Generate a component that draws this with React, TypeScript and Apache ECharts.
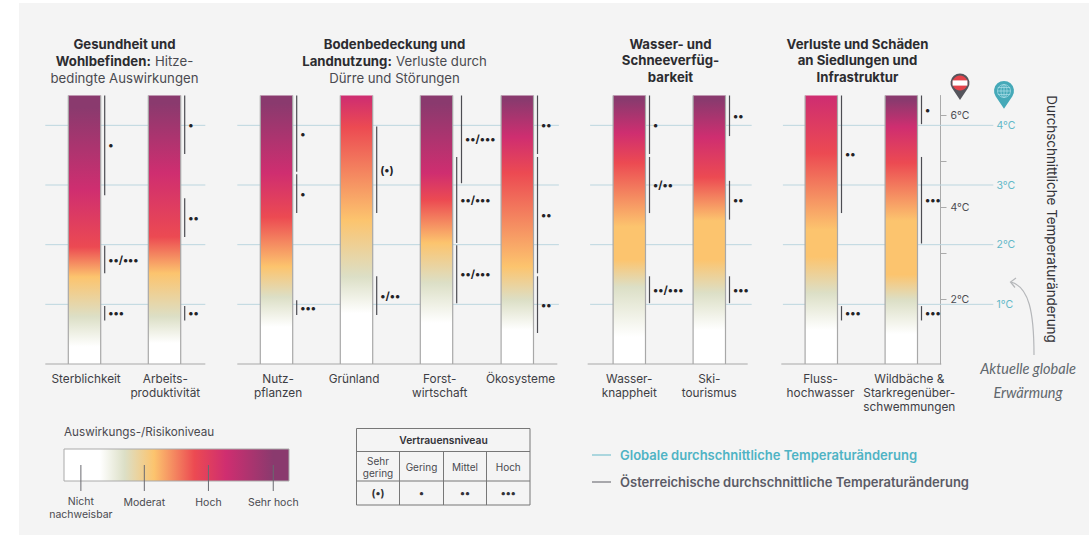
import React, { useEffect, useRef } from "react";
import * as echarts from "echarts";

const FONT = "Inter";
// Column positions (in column units) and their labels
const impactNames = ["Sterblichkeit", "Arbeitsproduktivität", "Nutzpflanzen", "Grünland", "Forstwirtschaft", "Ökosysteme", "Wasserknappheit", "Skitourismus", "Flusshochwasser", "Wildbäche"];
const barPositions = [0, 1, 2.4, 3.4, 4.4, 5.41, 6.81, 7.81, 9.21, 10.21];
const labelPositions = [0.02, 1.01, 2.42, 3.37, 4.44, 5.45, 6.81, 7.81, 9.2, 10.31];
const barLabels = [
  "Sterblichkeit", "Arbeits-\nproduktivität", "Nutz-\npflanzen", "Grünland", "Forst-\nwirtschaft",
  "Ökosysteme", "Wasser-\nknappheit", "Ski-\ntourismus", "Fluss-\nhochwasser", "Wildbäche &\nStarkregenüber-\nschwemmungen",
];
// Risk level (0 none .. 5 very high) reached at a global temperature, per column
const riskStops: number[][][] = [
  [[0.29, 0], [0.79, 1], [1.46, 2], [1.96, 3], [2.92, 4], [4.3, 5]],
  [[0.35, 0], [0.79, 1], [1.52, 2], [2.13, 3], [3.2, 4], [4.37, 5]],
  [[0.62, 0], [1.12, 1], [1.63, 2], [2.46, 3], [3.2, 4], [4.37, 5]],
  [[0.85, 0], [1.46, 1], [2.41, 2], [3.97, 3], [4.47, 4]],
  [[0.69, 0], [1.36, 1], [2.03, 2], [2.75, 3], [3.2, 4], [4.37, 5]],
  [[0.57, 0], [1.07, 1], [1.63, 2], [3.2, 3], [3.8, 4], [4.42, 5]],
  [[0.45, 0], [1.29, 1], [1.75, 2], [2.3, 2], [3.37, 3], [3.87, 4], [4.42, 5]],
  [[0.57, 0], [1.19, 1], [1.75, 2], [2.4, 2], [3.13, 3], [3.8, 4], [4.42, 5]],
  [[0.57, 0], [1.19, 1], [1.8, 2], [2.25, 2], [3.53, 3], [4.47, 4]],
  [[0.5, 0], [1.07, 1], [1.5, 2], [2.4, 2], [3.37, 3], [3.97, 4], [4.42, 5]],
];
// Confidence ranges: column, low, high, dots, lane
const confidence: [number, number, number, string, number][] = [
  [0, 2.83, 4.5, "•", 0], [0, 1.52, 1.98, "••/•••", 0], [0, 0.73, 0.97, "•••", 0],
  [1, 3.52, 4.5, "•", 0], [1, 2.13, 2.78, "••", 0], [1, 0.73, 0.97, "••", 0],
  [2, 3.22, 4.5, "•", 0], [2, 2.53, 3.18, "•", 0], [2, 0.82, 1.07, "•••", 0],
  [3, 2.53, 3.98, "(•)", 0], [3, 0.82, 1.47, "•/••", 0],
  [4, 3.03, 4.5, "••/•••", 1], [4, 2.03, 3.47, "••/•••", 0], [4, 1.02, 1.99, "••/•••", 0],
  [5, 3.52, 4.5, "••", 0], [5, 1.52, 3.47, "••", 0], [5, 0.52, 1.47, "••", 0],
  [6, 3.52, 4.5, "•", 0], [6, 2.53, 3.47, "•/••", 0], [6, 1.02, 1.47, "••/•••", 0],
  [7, 3.82, 4.5, "••", 0], [7, 2.42, 3.07, "••", 0], [7, 1.02, 1.47, "•••", 0],
  [8, 2.53, 4.5, "••", 0], [8, 0.73, 0.97, "•••", 0],
  [9, 4.02, 4.5, "•", 0], [9, 2.02, 3.47, "•••", 0], [9, 0.73, 0.97, "•••", 0],
];
const globalTemps = [1, 2, 3, 4];
const globalLineSpans = [[-0.49, 1.51], [1.91, 5.93], [6.32, 8.34], [8.73, 11.36]];
const baselineSpans = [[-0.49, 1.51], [1.91, 5.91], [6.29, 8.29], [8.71, 10.71]];
const austriaTicks = [2, 3, 4, 5, 6];
const austriaLabels = [2, 4, 6];
const legendLevels = [
  { name: "Nicht\nnachweisbar", at: 0.075 },
  { name: "Moderat", at: 0.357 },
  { name: "Hoch", at: 0.642 },
  { name: "Sehr hoch", at: 0.93 },
];
const tableHeader = "Vertrauensniveau";
const tableLevels = ["Sehr\ngering", "Gering", "Mittel", "Hoch"];
const tableDots = ["(•)", "•", "••", "•••"];
const titles = [
  { x: 124.5, text: "{b|Gesundheit und}\n{b|Wohlbefinden:} {r|Hitze-}\n{r|bedingte Auswirkungen}" },
  { x: 394.5, text: "{b|Bodenbedeckung und}\n{b|Landnutzung:} {r|Verluste durch}\n{r|Dürre und Störungen}" },
  { x: 670.5, text: "{b|Wasser- und}\n{b|Schneeverfüg-}\n{b|barkeit}" },
  { x: 857.5, text: "{b|Verluste und Schäden}\n{b|an Siedlungen und}\n{b|Infrastruktur}" },
];

const palette = ["#ffffff", "#dcdfc6", "#fcc46e", "#ec4a52", "#cf2e70", "#8a3a6e"];
const TOP = 4.5;
const BAR_W = 0.405;

const lineStyleOf = (stroke: string, lineWidth = 1) => ({ stroke, lineWidth });
const txt = (text: string, x: number, y: number, size: number, fill: string, extra: any = {}) => ({
  type: "text",
  x, y,
  style: { text, fill, font: `${extra.weight || 400} ${size}px ${FONT}`, align: extra.align || "center", verticalAlign: "middle", lineHeight: extra.lineHeight },
});
const line = (x1: number, y1: number, x2: number, y2: number, stroke: string, lineWidth = 1) => ({
  type: "line", shape: { x1, y1, x2, y2 }, style: lineStyleOf(stroke, lineWidth),
});

function buildGraphic() {
  const els: any[] = [];
  els.push({ type: "rect", z: -5, shape: { x: 19, y: 3, width: 1070, height: 532 }, style: { fill: "#f4f4f4" } });
  // risk legend
  const lx = 64, ly = 449, lw = 225, lh = 32;
  els.push(txt("Auswirkungs-/Risikoniveau", lx, 432, 11.7, "#4a4a50", { align: "left" }));
  els.push({
    type: "rect", shape: { x: lx, y: ly, width: lw, height: lh },
    style: {
      fill: new echarts.graphic.LinearGradient(0, 0, 1, 0, [
        { offset: 0, color: palette[0] }, { offset: 0.16, color: palette[0] }, { offset: 0.27, color: palette[1] },
        { offset: 0.4, color: palette[2] }, { offset: 0.58, color: palette[3] }, { offset: 0.72, color: palette[4] },
        { offset: 0.93, color: palette[5] }, { offset: 1, color: palette[5] },
      ]),
      stroke: "#aaaaaa", lineWidth: 1,
    },
  });
  legendLevels.forEach((l) => {
    const x = lx + l.at * lw;
    els.push(line(x, 465, x, 491, "#6a6a70", 1));
    els.push(txt(l.name, x, l.name.includes("\n") ? 508 : 502, 10.5, "#4a4a50", { lineHeight: 13 }));
  });
  // confidence table
  const cols = [356.5, 399.5, 443.5, 486.5, 530];
  const rows = [428.5, 451.5, 481, 505];
  rows.forEach((y) => els.push(line(cols[0], y, cols[4], y, "#777777", 1)));
  [cols[0], cols[4]].forEach((x) => els.push(line(x, rows[0], x, rows[3], "#777777", 1)));
  cols.slice(1, 4).forEach((x) => els.push(line(x, rows[1], x, rows[3], "#777777", 1)));
  els.push(txt(tableHeader, 443.5, 440, 10.3, "#333338", { weight: 600 }));
  tableLevels.forEach((t, i) => {
    const cx = (cols[i] + cols[i + 1]) / 2;
    els.push(txt(t, cx, 466.5, 10, "#4a4a50", { lineHeight: 12 }));
    els.push(txt(tableDots[i], cx, 493, 10.5, "#333338", { weight: 700 }));
  });
  // line legend
  els.push(line(592, 455, 611, 455, "#62b8c8", 1));
  els.push(line(592, 482, 611, 482, "#5b5b62", 1));
  els.push(txt("Globale durchschnittliche Temperaturänderung", 620, 455, 13, "#4fb3c4", { align: "left", weight: 600 }));
  els.push(txt("Österreichische durchschnittliche Temperaturänderung", 620, 482, 13, "#5b5b66", { align: "left", weight: 600 }));
  // axis title
  els.push({
    type: "text", x: 1052, y: 219, rotation: -Math.PI / 2,
    style: { text: "Durchschnittliche Temperaturänderung", fill: "#333338", font: `400 13.4px ${FONT}`, align: "center", verticalAlign: "middle" },
  });
  // pins
  els.push({ type: "pin", x: 960, y: 83, style: { fill: "#55555c" } });
  els.push({ type: "circle", shape: { cx: 960, cy: 83, r: 7.5 }, style: { fill: "#e4434b" } });
  els.push({ type: "rect", shape: { x: 952.6, y: 80.4, width: 14.8, height: 5.2 }, style: { fill: "#ffffff" } });
  els.push({ type: "pin", x: 1004, y: 91, scaleX: 1.05, scaleY: 1.05, style: { fill: "#45a9b8" } });
  els.push({ type: "circle", shape: { cx: 1004, cy: 91, r: 6.5 }, style: { fill: "none", stroke: "#a4dbe4", lineWidth: 0.8 } });
  els.push({ type: "ellipse", shape: { cx: 1004, cy: 91, rx: 3, ry: 6.5 }, style: { fill: "none", stroke: "#a4dbe4", lineWidth: 0.8 } });
  els.push(line(1004, 84.5, 1004, 97.5, "#a4dbe4", 0.8));
  [87.5, 91, 94.5].forEach((y) => els.push(line(997.8, y, 1010.2, y, "#a4dbe4", 0.8)));
  // annotation
  els.push({
    type: "bezierCurve",
    shape: { x1: 1034, y1: 355, cpx1: 1034, cpy1: 312, cpx2: 1029, cpy2: 287, x2: 1011, y2: 282 },
    style: { stroke: "#b5b7ba", lineWidth: 1.2, fill: "none" },
  });
  els.push({ type: "polyline", shape: { points: [[1016, 278], [1010.5, 282], [1015, 287.5]] }, style: { stroke: "#b5b7ba", lineWidth: 1.2, fill: "none" } });
  els.push({
    type: "text", x: 1028, y: 380,
    style: { text: "Aktuelle globale\nErwärmung", fill: "#5f676d", font: `italic 400 14.5px Lato`, align: "center", verticalAlign: "middle", lineHeight: 24 },
  });
  return els;
}

const spanSeries = (items: number[][], stroke: string, lineWidth: number, z: number) => ({
  type: "custom",
  coordinateSystem: "cartesian2d",
  xAxisIndex: 0,
  yAxisIndex: 0,
  clip: false,
  z,
  silent: true,
  data: items,
  renderItem: (_: any, api: any) => {
    const a = api.coord([api.value(0), api.value(2)]);
    const b = api.coord([api.value(1), api.value(2)]);
    return { type: "line", shape: { x1: a[0], y1: a[1], x2: b[0], y2: b[1] }, style: lineStyleOf(stroke, lineWidth) };
  },
});

export default function App() {
  const ref = useRef<HTMLDivElement>(null);
  useEffect(() => {
    document.body.style.margin = "0";
    echarts.graphic.registerShape("pin", echarts.graphic.extendPath("M-8,5 A9.5,9.5 0 1 1 8,5 L0,17 Z", {}));
    const chart = echarts.init(ref.current!, null, { renderer: "svg" });
    const globalLines = globalTemps.flatMap((t) => globalLineSpans.map((s) => [s[0], s[1], t]));
    const baselines = baselineSpans.map((s) => [s[0], s[1], 0]);
    chart.setOption({
      animation: false,
      backgroundColor: "#ffffff",
      textStyle: { fontFamily: FONT },
      title: titles.map((t) => ({
        text: t.text,
        left: t.x,
        top: 35.5,
        textAlign: "center",
        padding: 0,
        textStyle: {
          rich: {
            b: { fontFamily: FONT, fontSize: 13.2, fontWeight: 700, color: "#2c2c30", lineHeight: 16.5 },
            r: { fontFamily: FONT, fontSize: 13.2, fontWeight: 400, color: "#4a4a50", lineHeight: 16.5 },
          },
        },
      })),
      grid: { left: 44.5, right: 148.5, top: 95.5, bottom: 171 },
      xAxis: {
        type: "value",
        min: -0.5,
        max: 10.7,
        axisLine: { show: false },
        axisTick: { show: false },
        splitLine: { show: false },
        axisLabel: {
          customValues: labelPositions,
          formatter: (v: number) => barLabels[labelPositions.indexOf(v)],
          color: "#3e3e44",
          fontSize: 11.8,
          lineHeight: 14,
          margin: 8,
          fontFamily: FONT,
          verticalAlign: "top",
          hideOverlap: false,
        },
      },
      yAxis: [
        {
          type: "value", min: 0, max: TOP, position: "right", offset: 50,
          axisLine: { show: false }, axisTick: { show: false }, splitLine: { show: false },
          axisLabel: { customValues: globalTemps, formatter: "{value}°C", color: "#62b8c8", fontSize: 10.5, margin: 6, fontFamily: FONT },
        },
        {
          type: "value", min: 0.6, max: 6.423, position: "right",
          axisLine: { show: true, lineStyle: { color: "#aaaaaa", width: 1 } },
          axisTick: { show: true, length: 6, customValues: austriaTicks, lineStyle: { color: "#aaaaaa" } },
          splitLine: { show: false },
          axisLabel: { customValues: austriaLabels, formatter: "{value}°C", color: "#4a4a50", fontSize: 10.5, margin: 10, fontFamily: FONT },
        },
      ],
      graphic: { elements: buildGraphic() },
      series: [
        spanSeries(globalLines, "#bcd6df", 1, 1),
        spanSeries(baselines, "#a8a8a8", 1, 3),
        {
          type: "custom",
          name: "Auswirkungen",
          coordinateSystem: "cartesian2d",
          xAxisIndex: 0,
          yAxisIndex: 0,
          clip: false,
          z: 2,
          silent: true,
          data: barPositions.map((x, i) => ({ value: [x, 0, TOP], name: impactNames[i] })),
          renderItem: (p: any, api: any) => {
            const x = api.value(0);
            const tl = api.coord([x - BAR_W / 2, TOP]);
            const br = api.coord([x + BAR_W / 2, 0]);
            const stops = riskStops[p.dataIndex]
              .map(([t, lvl]) => ({ offset: Math.min(1, Math.max(0, (TOP - t) / TOP)), color: palette[lvl] }))
              .sort((a, b) => a.offset - b.offset);
            return {
              type: "group",
              children: [
                {
                  type: "rect",
                  shape: { x: tl[0], y: tl[1], width: br[0] - tl[0], height: br[1] - tl[1] },
                  style: { fill: new echarts.graphic.LinearGradient(0, 0, 0, 1, stops) },
                },
                { type: "line", shape: { x1: tl[0], y1: tl[1], x2: tl[0], y2: br[1] }, style: lineStyleOf("#a8a8a8", 1.2) },
                { type: "line", shape: { x1: br[0], y1: tl[1], x2: br[0], y2: br[1] }, style: lineStyleOf("#a8a8a8", 1.2) },
              ],
            };
          },
        },
        {
          type: "custom",
          name: "Vertrauen",
          coordinateSystem: "cartesian2d",
          xAxisIndex: 0,
          yAxisIndex: 0,
          clip: false,
          z: 4,
          silent: true,
          data: confidence.map((c) => [barPositions[c[0]], c[1], c[2]]),
          renderItem: (p: any, api: any) => {
            const c = confidence[p.dataIndex];
            const x = api.value(0) + BAR_W / 2 + 0.05 + c[4] * 0.06;
            const a = api.coord([x, api.value(1)]);
            const b = api.coord([x, api.value(2)]);
            return {
              type: "group",
              children: [
                { type: "line", shape: { x1: a[0], y1: a[1], x2: b[0], y2: b[1] }, style: lineStyleOf("#4c4c52", 1.2) },
                {
                  type: "text",
                  x: a[0] + 3.5,
                  y: (a[1] + b[1]) / 2,
                  style: { text: c[3], fill: "#222226", font: `700 11px ${FONT}`, align: "left", verticalAlign: "middle" },
                },
              ],
            };
          },
        },
      ],
    });
    return () => chart.dispose();
  }, []);
  return <div ref={ref} style={{ width: 1089, height: 535 }} />;
}
